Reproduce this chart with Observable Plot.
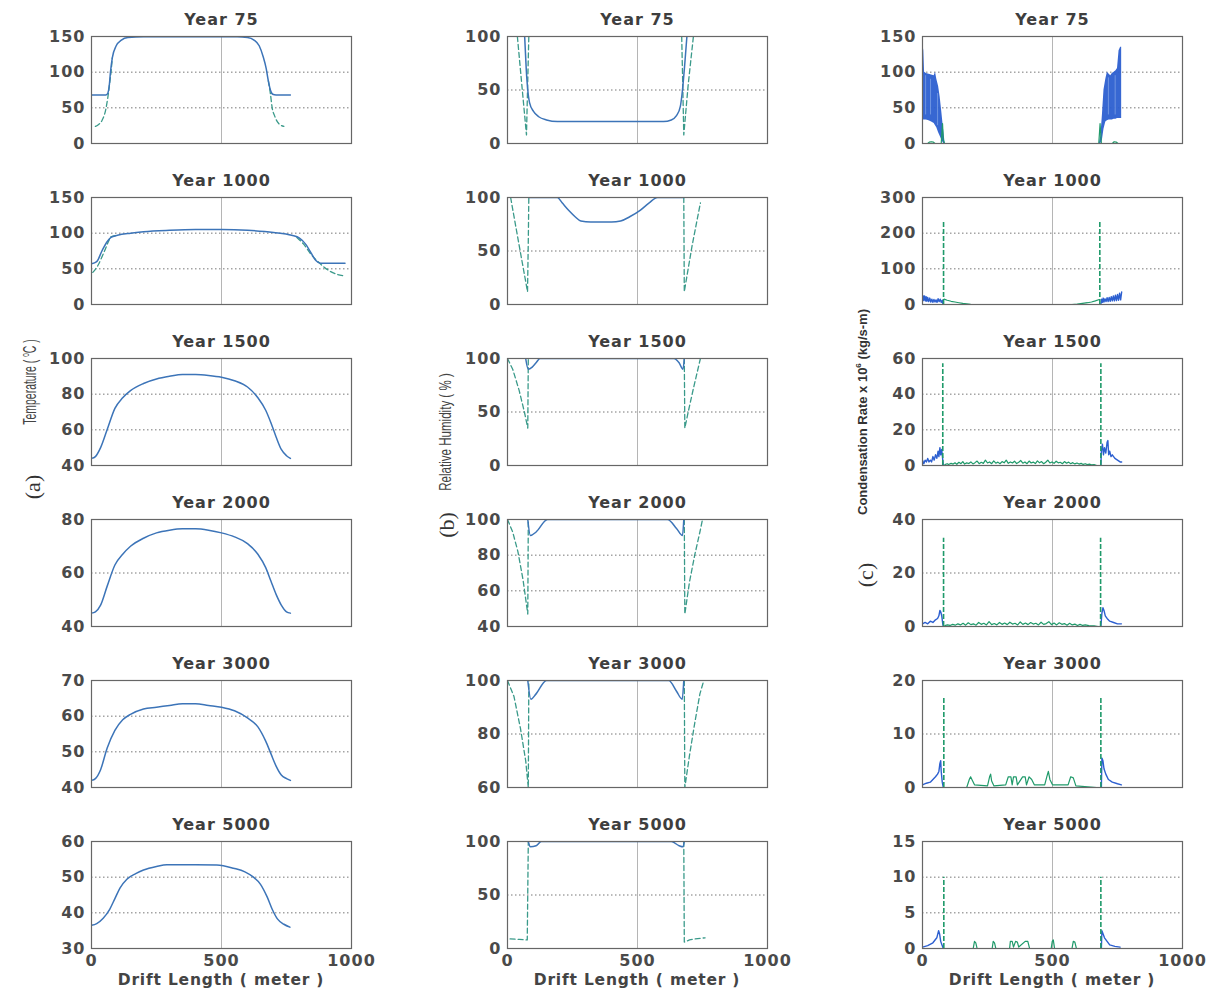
<!DOCTYPE html>
<html><head><meta charset="utf-8">
<script src="https://cdn.jsdelivr.net/npm/d3@7"></script>
<script src="https://cdn.jsdelivr.net/npm/@observablehq/plot@0.6"></script>
<style>
body{margin:0;background:#fff;}
#root{position:relative;width:1211px;height:993px;overflow:hidden;font-family:"DejaVu Sans",sans-serif;background:#fff;}
.panel{position:absolute;}
.vl{position:absolute;white-space:nowrap;color:#333;}
.xl{position:absolute;transform:translateX(-50%);font-weight:bold;font-size:15.5px;letter-spacing:0.8px;color:#444;white-space:nowrap;font-family:"DejaVu Sans",sans-serif;}
</style></head><body><div id="root"></div>
<script>
// ---------- categories / axes ----------
const years = ["Year 75","Year 1000","Year 1500","Year 2000","Year 3000","Year 5000"];
const xTicks = [0, 500, 1000];
const tempDomains = [[0,150],[0,150],[40,100],[40,80],[40,70],[30,60]];
const tempTicks = [[0,50,100,150],[0,50,100,150],[40,60,80,100],[40,60,80],[40,50,60,70],[30,40,50,60]];
const rhDomains = [[0,100],[0,100],[0,100],[40,100],[60,100],[0,100]];
const rhTicks = [[0,50,100],[0,50,100],[0,50,100],[40,60,80,100],[60,80,100],[0,50,100]];
const crDomains = [[0,150],[0,300],[0,60],[0,40],[0,20],[0,15]];
const crTicks = [[0,50,100,150],[0,100,200,300],[0,20,40,60],[0,20,40],[0,10,20],[0,5,10,15]];

// ---------- (a) temperature ----------
const tempSolid = [
  [[0,68],[55,68],[62,70],[68,80],[73,100],[80,120],[95,137],[115,145],[140,148.5],[200,149.5],[400,149.5],[560,149.5],[600,148.5],[625,145],[645,137],[660,122],[672,105],[680,88],[688,75],[697,69],[710,68],[765,68]],
  [[0,57],[20,60],[40,75],[60,88],[75,94],[100,97],[150,100],[200,102],[300,104],[400,105],[500,105],[600,104],[700,101],[770,97],[800,93],[825,84],[845,72],[862,62],[880,58],[975,58]],
  [[0,44],[15,45],[35,50],[60,60],[90,72],[120,78],[150,82],[200,86],[250,88.5],[300,90],[350,91],[400,91],[450,90.5],[500,89.5],[550,87.5],[600,84],[640,78],[670,71],[690,64],[710,56],[730,49],[750,45.5],[765,44]],
  [[0,45],[15,45.5],[35,48],[60,55],[90,63],[120,67],[150,70],[200,73],[250,75],[300,76],[350,76.5],[400,76.5],[450,76],[500,75],[550,73.5],[600,71],[640,67],[670,62],[690,57],[710,52],[730,48],[750,45.5],[765,45]],
  [[0,42],[15,42.5],[35,45],[60,51],[90,56],[120,59],[150,60.5],[200,62],[250,62.5],[300,63],[350,63.5],[400,63.5],[450,63],[500,62.5],[550,61.5],[600,59.5],[640,57],[670,53],[690,49.5],[710,46],[730,43.5],[750,42.5],[765,42]],
  [[0,36.5],[20,37],[45,38.5],[70,41],[90,44],[110,47],[137,49.5],[170,51],[200,52],[250,53],[290,53.5],[400,53.5],[482,53.4],[546,52.5],[590,51.5],[623,50],[650,48],[676,44.4],[695,41],[715,38.3],[740,36.8],[763,36]]
];
const tempDashed = [
  [[[15,24],[25,26],[40,32],[55,48],[63,65],[70,85],[75,100],[80,120]], [[680,88],[688,70],[695,50],[705,38],[720,28],[740,24]]],
  [[[5,45],[25,55],[50,75],[70,92],[75,95],[100,97]], [[790,94],[815,85],[845,70],[880,57],[920,46],[975,40]]],
  [], [], [], []
];

// ---------- (b) relative humidity ----------
const rhSolid = [
  [[66,100],[72,70],[78,50],[85,38],[100,30],[120,25],[150,22],[192,20.5],[300,20.5],[450,20.5],[600,20.5],[630,22],[650,26],[665,35],[673,50],[682,75],[690,100]],
  [[82,100],[192,100],[210,95],[235,88],[260,82],[282,78],[320,77],[400,77],[435,78],[470,82],[510,88],[545,95],[577,100],[680,100]],
  [[70,100],[80,90],[95,92],[110,96],[125,100],[640,100],[660,96],[675,90],[680,100]],
  [[78,100],[88,91],[110,93],[154,100],[615,100],[650,95],[673,91],[678,100]],
  [[78,100],[90,93],[110,95],[150,100],[620,100],[650,96],[672,93],[678,100]],
  [[80,100],[88,95],[110,96],[130,100],[630,100],[660,96],[675,95],[680,100]]
];
const rhDashed = [
  [[[38,100],[55,55],[73,8],[78,60],[82,100]], [[670,100],[674,55],[678,8],[695,55],[715,100]]],
  [[[12,100],[45,55],[77,12],[80,60],[82,100]], [[678,100],[680,12],[710,55],[742,95]]],
  [[[0,100],[20,90],[45,70],[65,50],[78,35],[80,100]], [[680,100],[682,35],[695,50],[715,72],[742,100]]],
  [[[0,100],[20,93],[40,82],[60,66],[78,47],[80,100]], [[680,100],[682,47],[700,65],[720,80],[740,93],[750,100]]],
  [[[0,100],[25,94],[50,82],[70,70],[80,60],[82,100]], [[680,100],[682,60],[700,72],[720,84],[740,95],[755,100]]],
  [[[10,9],[45,8.5],[76,8],[80,100]], [[678,100],[680,6],[700,8],[720,9],[760,10]]]
];

// ---------- (c) condensation rate ----------
const cr75LeftX  = [0,2,5,8,15,25,35,45,50,55,62,68,74,81,87];
const cr75LeftHi = [140,138,130,100,98,97,96,95,100,90,80,65,45,20,0];
const cr75LeftLo = [33,33,33,33,33,32,30,28,25,22,15,10,5,0,0];
const cr75RightX  = [680,686,692,698,705,711,718,724,730,737,744,750,756,762,766];
const cr75RightHi = [0,10,40,75,90,100,97,95,98,100,102,105,130,135,135];
const cr75RightLo = [0,0,5,20,30,32,33,33,33,34,34,35,35,35,35];
const cr75Streaks = [[12,40,95],[31,40,90],[58,25,70],[715,40,92],[741,40,95]];

const crBlue = [
  [],
  [[[0,8],[2,25],[5,12],[8,24],[11,10],[14,22],[17,9],[20,20],[24,8],[28,18],[32,7],[36,15],[40,6],[44,14],[48,7],[52,13],[56,6],[60,16],[64,8],[68,15],[72,6],[76,12],[79,0]],
   [[686,0],[689,15],[692,6],[695,18],[698,7],[702,16],[706,8],[710,19],[714,8],[718,20],[722,9],[726,22],[730,10],[734,24],[738,10],[742,26],[746,11],[750,28],[754,12],[758,32],[762,13],[766,35]]],
  [[[0,3],[5,1],[10,3],[15,2],[20,4],[25,2],[30,3],[35,2],[40,5],[45,3],[50,6],[55,4],[60,8],[63,5],[67,10],[70,6],[74,9],[78,3],[80,0]],
   [[686,0],[688,8],[692,12],[696,6],[700,10],[705,7],[710,13],[713,14],[716,6],[720,8],[725,5],[730,6],[740,4],[750,3],[760,2],[766,2]]],
  [[[0,1],[10,1.5],[20,1],[30,2],[40,1.5],[50,2.5],[58,3],[63,4],[67,6],[70,5.5],[74,4],[78,1],[80,0]],
   [[686,0],[690,5],[694,7],[698,6],[703,4],[710,3],[720,2],[735,1.5],[750,1],[765,1]]],
  [[[0,0.5],[15,0.8],[30,1],[40,1.5],[50,2],[58,2.5],[63,3],[67,4.5],[70,5],[72,3],[76,1],[80,0]],
   [[688,0],[690,5.5],[694,5],[698,3.5],[705,2.5],[715,1.5],[730,1],[750,0.7],[765,0.5]]],
  [[[0,0.2],[20,0.4],[40,0.8],[55,1.5],[62,2.5],[66,2],[70,1],[75,0.5],[80,0]],
   [[688,0],[690,2.5],[695,2],[700,1.5],[710,1],[720,0.5],[740,0.3],[760,0.2]]]
];
const crGreen = [
  [[[20,0],[26,2],[34,2.5],[42,2],[48,0]], [[72,0],[77,28],[80,5],[85,0]], [[678,0],[683,28],[688,0]], [[730,0],[737,2.5],[745,2],[752,0]]],
  [[[83,15],[95,12],[110,9],[125,7],[140,5],[155,3],[170,2],[185,0.5],[195,0]], [[575,0],[595,1],[615,3],[635,5],[650,7],[665,10],[680,14]]],
  [[[86,0.5],[95,1],[100,0.6],[110,1.2],[118,0.8],[125,1.5],[132,0.7],[140,1.8],[148,1],[155,2.2],[162,0.8],[170,1.5],[178,1.1],[186,2],[194,0.9],[202,1.6],[210,2.5],[218,1],[226,1.8],[234,1.2],[242,3],[250,1.4],[258,2],[266,1],[274,2.6],[282,1.3],[290,1.9],[298,1],[306,2.2],[314,1.5],[322,3],[330,1.2],[338,2],[346,1.4],[354,2.4],[362,1.1],[370,1.8],[378,2.8],[386,1.3],[394,2],[402,1],[410,2.5],[418,1.4],[426,1.9],[434,1.1],[442,2.6],[450,1.5],[458,2.2],[466,1],[474,1.8],[482,3],[490,1.4],[498,2],[506,1.2],[514,2.4],[522,1.5],[530,1.8],[538,1],[546,2.2],[554,1.3],[562,1.9],[570,1],[578,1.6],[586,0.9],[594,1.4],[602,0.8],[610,1.2],[618,0.6],[626,1],[634,0.5],[642,0.8],[650,0.4],[660,0.5],[670,0]]],
  [[[86,0.3],[96,0.6],[106,0.4],[116,0.8],[126,0.5],[136,1],[146,0.6],[156,1.2],[166,0.5],[176,1.4],[186,0.7],[196,1],[206,0.5],[216,1.5],[226,0.8],[236,1.2],[246,0.6],[256,1.8],[266,0.7],[276,1.1],[286,0.6],[296,1.5],[306,0.8],[316,1.3],[326,0.7],[336,1.6],[346,0.9],[356,1.2],[366,0.6],[376,1.7],[386,0.8],[396,1.3],[406,0.7],[416,1.5],[426,0.9],[436,1.2],[446,0.6],[456,1.6],[466,0.8],[476,1.1],[486,1.8],[496,0.7],[506,1.3],[516,0.6],[526,1.4],[536,0.8],[546,1.1],[556,0.5],[566,1.2],[576,0.6],[586,0.9],[596,0.4],[606,0.8],[616,0.4],[626,0.6],[640,0.3],[660,0.2],[675,0]]],
  [[[90,0],[170,0],[180,1.5],[185,2],[190,1.5],[200,0.5],[250,0.3],[258,2],[262,2.5],[266,1.2],[275,0.3],[320,0.5],[330,2],[340,2],[345,0.5],[350,2],[360,2],[365,0.5],[385,2],[395,2],[400,0.5],[410,2],[420,1.5],[430,0.5],[470,0.5],[478,2],[484,3],[490,1.5],[500,0.5],[560,0.5],[570,2],[580,1.8],[590,0.3],[670,0]]],
  [[[90,0],[195,0],[200,1],[205,0.8],[210,0],[268,0],[272,1],[277,0.8],[282,0],[335,0],[338,1],[345,1],[350,0.2],[358,1],[365,0.9],[370,0.2],[395,1],[405,1],[412,0],[495,0],[499,1],[503,1.2],[508,0],[575,0],[580,1],[586,0.9],[592,0],[670,0]]]
];
const crSpikes = [
  [],
  [[81,235],[682,235]],
  [[78,57],[686,57]],
  [[81,33],[685,33]],
  [[82,17],[686,17]],
  [[82,10],[686,10]]
];

// ---------- styling ----------
const C_SOLID = "#3c74b8", C_DASH = "#3a9a8a", C_BLUE = "#2c5fd0", C_GREEN = "#1f9a6a";
const FONT = "DejaVu Sans, sans-serif";
const frameLefts = [91, 507, 922];
const root = document.getElementById("root");

function segs(list) {
  return list.flatMap((seg, s) => seg.map(([x, y]) => ({x, y, s})));
}

function panel(col, row, domain, ticks, dataMarks) {
  const last = row === 5;
  const mL = 60, mR = 24, mT = 30, mB = last ? 30 : 6;
  const p = Plot.plot({
    width: mL + 260 + mR, height: mT + 107 + mB,
    marginLeft: mL, marginRight: mR, marginTop: mT, marginBottom: mB,
    style: {fontSize: "16px", letterSpacing: "1px", fontFamily: FONT, fontWeight: "bold", color: "#4a4a4a", background: "transparent", overflow: "visible"},
    x: {domain: [0, 1000], ticks: xTicks, tickSize: 0, tickPadding: 6, axis: last ? "bottom" : null, label: null, tickFormat: d => String(d)},
    y: {domain, ticks, tickSize: 0, tickPadding: 6, label: null, tickFormat: d => String(d)},
    marks: [
      Plot.ruleY(ticks, {stroke: "#777", strokeWidth: 1, strokeDasharray: "1.5,2.5"}),
      Plot.ruleX(xTicks, {stroke: "#b5b5b5", strokeWidth: 1}),
      ...dataMarks,
      Plot.frame({stroke: "#666", strokeWidth: 1.2}),
      Plot.text([years[row]], {text: d => d, frameAnchor: "top", lineAnchor: "middle", dy: -17, fontSize: 16, fontWeight: "bold", fill: "#3e3e3e"})
    ]
  });
  p.classList.add("panel");
  p.style.left = (frameLefts[col] - mL) + "px";
  p.style.top = (36 + 161 * row - mT) + "px";
  root.appendChild(p);
}

for (let r = 0; r < 6; r++) {
  // (a)
  panel(0, r, tempDomains[r], tempTicks[r], [
    Plot.line(segs(tempDashed[r]), {x: "x", y: "y", z: "s", stroke: C_DASH, strokeWidth: 1.3, strokeDasharray: "5,3", curve: "monotone-x", clip: true}),
    Plot.line(tempSolid[r], {x: d => d[0], y: d => d[1], stroke: C_SOLID, strokeWidth: 1.5, curve: "monotone-x", clip: true})
  ]);
  // (b)
  panel(1, r, rhDomains[r], rhTicks[r], [
    Plot.line(segs(rhDashed[r]), {x: "x", y: "y", z: "s", stroke: C_DASH, strokeWidth: 1.3, strokeDasharray: "5,3", clip: true}),
    Plot.line(rhSolid[r], {x: d => d[0], y: d => d[1], stroke: C_SOLID, strokeWidth: 1.5, curve: "monotone-x", clip: true})
  ]);
  // (c)
  const cm = [];
  if (r === 0) {
    const bandL = cr75LeftX.map((x, i) => ({x, lo: cr75LeftLo[i], hi: cr75LeftHi[i]}));
    const bandR = cr75RightX.map((x, i) => ({x, lo: cr75RightLo[i], hi: cr75RightHi[i]}));
    cm.push(Plot.areaY(bandL, {x: "x", y1: "lo", y2: "hi", fill: C_BLUE, fillOpacity: 0.95, clip: true}));
    cm.push(Plot.areaY(bandR, {x: "x", y1: "lo", y2: "hi", fill: C_BLUE, fillOpacity: 0.95, clip: true}));
    cm.push(Plot.ruleX(cr75Streaks, {x: d => d[0], y1: d => d[1], y2: d => d[2], stroke: "#86a8e8", strokeWidth: 0.7}));
  }
  cm.push(Plot.line(segs(crGreen[r]), {x: "x", y: "y", z: "s", stroke: C_GREEN, strokeWidth: 1.2, clip: true}));
  cm.push(Plot.line(segs(crBlue[r]), {x: "x", y: "y", z: "s", stroke: C_BLUE, strokeWidth: 1.4, clip: true}));
  cm.push(Plot.ruleX(crSpikes[r], {x: d => d[0], y1: 0, y2: d => d[1], stroke: C_GREEN, strokeWidth: 1.6, strokeDasharray: "5,2", clip: true}));
  panel(2, r, crDomains[r], crTicks[r], cm);
}

// ---------- axis titles ----------
function vlabel(html, x, y, css, sx) {
  const d = document.createElement("div");
  d.className = "vl"; d.innerHTML = html;
  d.style.left = x + "px"; d.style.top = y + "px";
  d.style.transform = `translate(-50%,-50%) rotate(-90deg) scaleX(${sx})`;
  Object.assign(d.style, css);
  root.appendChild(d);
}
const serif = {fontFamily: "Liberation Serif, serif", fontSize: "22px", color: "#333"};
vlabel("(a)", 33, 487, serif, 1);
vlabel("Temperature ( <sup style='font-size:11px'>o</sup>C )", 30, 382, {fontFamily: "Liberation Sans, Arial, sans-serif", fontSize: "18px", color: "#444"}, 0.58);
vlabel("(b)", 447, 525, serif, 1);
vlabel("Relative Humidity ( % )", 446, 432, {fontFamily: "Liberation Sans, Arial, sans-serif", fontSize: "17px", color: "#444"}, 0.68);
vlabel("(c)", 866, 575, serif, 1);
vlabel("Condensation Rate x 10<sup style='font-size:8px'>6</sup> (kg/s-m)", 862, 412, {fontFamily: "Liberation Sans, Arial, sans-serif", fontSize: "13px", fontWeight: "bold", color: "#333"}, 1);

const xLabel = "Drift Length ( meter )";
[221, 637, 1052].forEach(cx => {
  const d = document.createElement("div");
  d.className = "xl"; d.textContent = xLabel;
  d.style.left = cx + "px"; d.style.top = "971px";
  root.appendChild(d);
});
</script></body></html>
